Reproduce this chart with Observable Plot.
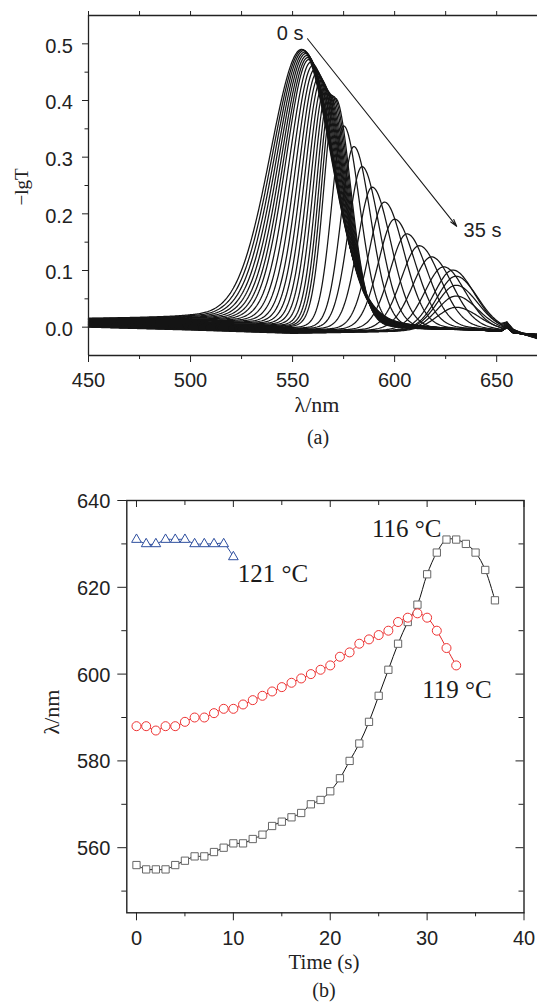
<!DOCTYPE html>
<html><head><meta charset="utf-8">
<script src="https://cdn.jsdelivr.net/npm/d3@7"></script>
<script src="https://cdn.jsdelivr.net/npm/@observablehq/plot@0.6"></script>
<style>
html,body{margin:0;padding:0;background:#fff;}
#wrap{position:relative;width:537px;height:1003px;overflow:hidden;background:#fff;}
#top,#bot{position:absolute;left:0;}
#top{top:0px}
#bot{top:480px}
#ann{position:absolute;left:0;top:0;pointer-events:none}
</style></head><body>
<div id="wrap">
<div id="top"></div>
<div id="bot"></div>
<svg id="ann" width="537" height="1003" font-family="'Liberation Serif','Times New Roman',serif" fill="#222">
  <text x="28" y="187" font-size="19" text-anchor="middle" transform="rotate(-90 28 187)">−lgT</text>
  <text x="317" y="412" font-size="22" text-anchor="middle">λ/nm</text>
  <text x="318" y="444" font-size="20" text-anchor="middle">(a)</text>
  <text x="59" y="712" font-size="22" text-anchor="middle" transform="rotate(-90 59 712)">λ/nm</text>
  <text x="324" y="969" font-size="21" text-anchor="middle">Time (s)</text>
  <text x="324" y="997" font-size="20" text-anchor="middle">(b)</text>
</svg>
</div>
<script>
// ---------- Panel (a): spectra recorded every second, 0–35 s ----------
const spectrumTimes = [0,1,2,3,4,5,6,7,8,9,10,11,12,13,14,15,16,17,18,19,20,21,22,23,24,25,26,27,28,29,30,31,32,33,34,35];
const peakNm = [554.5,555,555.5,556,556.5,557,557.5,558,559,560,561,562,563,564,565,566,567,568,569,570,571,
                575,580,584,589,595,600,606,612,618,624,628.5,630,630,630,630];
const peakHeight = [0.484,0.484,0.483,0.481,0.479,0.476,0.473,0.470,0.466,0.461,0.455,0.449,0.443,0.437,0.430,0.424,0.419,0.415,0.413,0.411,0.408,
                    0.360,0.324,0.289,0.253,0.227,0.197,0.171,0.150,0.130,0.112,0.106,0.095,0.079,0.060,0.040];
const leftHalfWidth = [18.5,17.8,17.1,16.4,15.7,15,14.3,13.6,12.9,12.2,11.5,10.8,10.2,9.6,9,8.5,8,7.5,7.2,7,6.8,
                       7,7.5,8,8.5,9,9.5,10,10.5,11,11,11,11,11,11,11];
const rightHalfWidth = [17.3,17,16.7,16.4,16.1,15.8,15.5,15.1,14.7,14.3,13.9,13.5,13,12.5,12,11.5,11,10.5,10,9.5,9,
                        9.5,10,10.5,11,11.5,12,12,12.5,12.5,12.5,12.5,12.5,12.5,12.5,12.5];
const baselineNm    = [450, 500, 550, 600, 640, 652, 655, 658, 670];
const baselineFirst = [0.014, 0.015, 0.007, -0.002, -0.008, -0.010, -0.003, -0.012, -0.014];
const baselineLast  = [0.000, -0.005, -0.011, -0.008, -0.004, -0.006, 0.002, -0.008, -0.021];

const xDomainA = [450, 670];
const yDomainA = [-0.05, 0.55];
const xTicksA = [450, 500, 550, 600, 650];
const xMinorA = [475, 525, 575, 625];
const xTopA = [450, 475, 500, 525, 550, 575, 600, 625, 650];
const yTicksA = [0, 0.1, 0.2, 0.3, 0.4, 0.5];
const yMinorA = [0.05, 0.15, 0.25, 0.35, 0.45];
const startLabelA = [{x: 555.3, y: 0.507, text: "0 s"}];
const endLabelA = [{x: 633.8, y: 0.159, text: "35 s"}];
const arrowA = [{x1: 557.3, y1: 0.509, x2: 630.4, y2: 0.178}];

// ---------- Panel (b): peak wavelength vs time ----------
const time116 = [0,1,2,3,4,5,6,7,8,9,10,11,12,13,14,15,16,17,18,19,20,21,22,23,24,25,26,27,28,29,30,31,32,33,34,35,36,37];
const peak116 = [556,555,555,555,556,557,558,558,559,560,561,561,562,563,565,566,567,568,570,571,573,576,580,584,589,595,601,607,612,616,623,628,631,631,630,628,624,617];
const time119 = [0,1,2,3,4,5,6,7,8,9,10,11,12,13,14,15,16,17,18,19,20,21,22,23,24,25,26,27,28,29,30,31,32,33];
const peak119 = [588,588,587,588,588,589,590,590,591,592,592,593,594,595,596,597,598,599,600,601,602,604,605,607,608,609,610,612,613,614,613,610,606,602];
const time121 = [0,1,2,3,4,5,6,7,8,9,10];
const peak121 = [631,630,630,631,631,631,630,630,630,630,627];
const labelsB = [{x: 24.3, y: 631.7, text: "116 °C"}, {x: 10.45, y: 621.2, text: "121 °C"}, {x: 29.5, y: 594.4, text: "119 °C"}];

const xDomainB = [-1, 40];
const yDomainB = [545, 640];
const xTicksB = [0, 10, 20, 30, 40];
const xMinorB = [5, 15, 25, 35];
const yTicksB = [560, 580, 600, 620, 640];
const yMinorB = [550, 570, 590, 610, 630];

// ---------- build spectra ----------
function interp(xs, ys, x) {
  for (let k = 0; k < xs.length - 1; k++) {
    if (x <= xs[k + 1]) { const f = (x - xs[k]) / (xs[k + 1] - xs[k]); return ys[k] + f * (ys[k + 1] - ys[k]); }
  }
  return ys[ys.length - 1];
}
function shape(x, eta) { return (1 - eta) * Math.exp(-Math.LN2 * x * x) + eta / (1 + x * x); }
const grid = d3.range(xDomainA[0], xDomainA[1] + 0.01, 0.5);
const spectra = [];
spectrumTimes.forEach((t, i) => {
  const w = i / (spectrumTimes.length - 1);
  for (const nm of grid) {
    const d = nm - peakNm[i];
    const s = d < 0 ? shape(-d / leftHalfWidth[i], 0.12) : shape(d / rightHalfWidth[i], 0.16);
    const b = (1 - w) * interp(baselineNm, baselineFirst, nm) + w * interp(baselineNm, baselineLast, nm);
    spectra.push({t, nm, v: peakHeight[i] * s + b});
  }
});

const AX = "#222";
const sans = "'Liberation Sans', Arial, Helvetica, sans-serif";
const serif = "'Liberation Serif', 'Times New Roman', serif";
const blank = () => "";

const topPlot = Plot.plot({
  width: 537, height: 400,
  marginTop: 15, marginBottom: 45, marginLeft: 88, marginRight: 0,
  x: {domain: xDomainA}, y: {domain: yDomainA},
  style: {fontFamily: sans, fontSize: "20px", color: AX, background: "transparent", overflow: "visible"},
  marks: [
    Plot.line(spectra, {x: "nm", y: "v", z: "t", stroke: "#151515", strokeWidth: 1.25}),
    Plot.ruleX([xDomainA[0]], {stroke: AX, strokeWidth: 1.3}),
    Plot.ruleY(yDomainA, {stroke: AX, strokeWidth: 1.3}),
    Plot.axisY({ticks: yTicksA, tickSize: 6, tickFormat: blank, label: null}),
    Plot.axisY({ticks: yTicksA, tickSize: 0, tickPadding: 15.5, tickFormat: d3.format(".1f"), dy: 2.5, label: null}),
    Plot.axisY({ticks: yMinorA, tickSize: 3.5, tickFormat: blank, label: null}),
    Plot.axisX({ticks: xTicksA, tickSize: 7, tickPadding: 10, label: null}),
    Plot.axisX({ticks: xMinorA, tickSize: 4, tickFormat: blank, label: null}),
    Plot.axisX({anchor: "top", ticks: xTopA, tickSize: 5, tickFormat: blank, label: null}),
    Plot.arrow(arrowA, {x1: "x1", y1: "y1", x2: "x2", y2: "y2", stroke: "#1a1a1a", strokeWidth: 1.1, headLength: 10, headAngle: 30}),
    Plot.text(startLabelA, {x: "x", y: "y", text: "text", textAnchor: "end", lineAnchor: "bottom", fontSize: 20, fontFamily: sans, fill: "#222"}),
    Plot.text(endLabelA, {x: "x", y: "y", text: "text", textAnchor: "start", lineAnchor: "bottom", fontSize: 20, fontFamily: sans, fill: "#222"})
  ]
});
document.getElementById("top").appendChild(topPlot);

const d116 = time116.map((t, i) => ({t, nm: peak116[i]}));
const d119 = time119.map((t, i) => ({t, nm: peak119[i]}));
const d121 = time121.map((t, i) => ({t, nm: peak121[i]}));
const plotW = 537 - 126.3 - 13.5, plotH = 523 - 20 - 90.7;

const botPlot = Plot.plot({
  width: 537, height: 523,
  marginTop: 20, marginBottom: 90.7, marginLeft: 126.3, marginRight: 13.5,
  x: {domain: xDomainB}, y: {domain: yDomainB},
  style: {fontFamily: sans, fontSize: "20px", color: AX, background: "transparent", overflow: "visible"},
  marks: [
    Plot.frame({stroke: AX, strokeWidth: 1.4}),
    Plot.axisY({ticks: yTicksB, tickSize: 9, tickFormat: blank, label: null}),
    Plot.axisY({ticks: yTicksB, tickSize: 0, tickPadding: 16.5, dy: 1, label: null}),
    Plot.axisY({ticks: yMinorB, tickSize: 5, tickFormat: blank, label: null}),
    Plot.axisX({ticks: xTicksB, tickSize: 8, tickPadding: 10, label: null}),
    Plot.axisX({ticks: xMinorB, tickSize: 4, tickFormat: blank, label: null}),
    Plot.tickY(yTicksB, {y: d => d, insetLeft: plotW - 8, stroke: AX}),
    Plot.tickY(yMinorB, {y: d => d, insetLeft: plotW - 5, stroke: AX}),
    Plot.tickX(xTicksB, {x: d => d, insetBottom: plotH - 7, stroke: AX}),
    Plot.tickX(xMinorB, {x: d => d, insetBottom: plotH - 5, stroke: AX}),
    Plot.line(d116, {x: "t", y: "nm", stroke: "#111", strokeWidth: 1, curve: "catmull-rom"}),
    Plot.line(d119, {x: "t", y: "nm", stroke: "#e32626", strokeWidth: 1, curve: "catmull-rom"}),
    Plot.line(d121, {x: "t", y: "nm", stroke: "#2d4e9e", strokeWidth: 1, curve: "catmull-rom"}),
    Plot.dot(d116, {x: "t", y: "nm", symbol: "square", r: 4.1, stroke: "#666", fill: "white", strokeWidth: 1}),
    Plot.dot(d119, {x: "t", y: "nm", symbol: "circle", r: 4.5, stroke: "#ee3333", fill: "white", strokeWidth: 1}),
    Plot.dot(d121, {x: "t", y: "nm", symbol: "triangle", r: 3.6, stroke: "#2d4e9e", fill: "white", strokeWidth: 1}),
    Plot.text(labelsB, {x: "x", y: "y", text: "text", textAnchor: "start", lineAnchor: "bottom", fontSize: 25, fontFamily: serif, fill: "#1a1a1a"})
  ]
});
document.getElementById("bot").appendChild(botPlot);
</script>
</body></html>
